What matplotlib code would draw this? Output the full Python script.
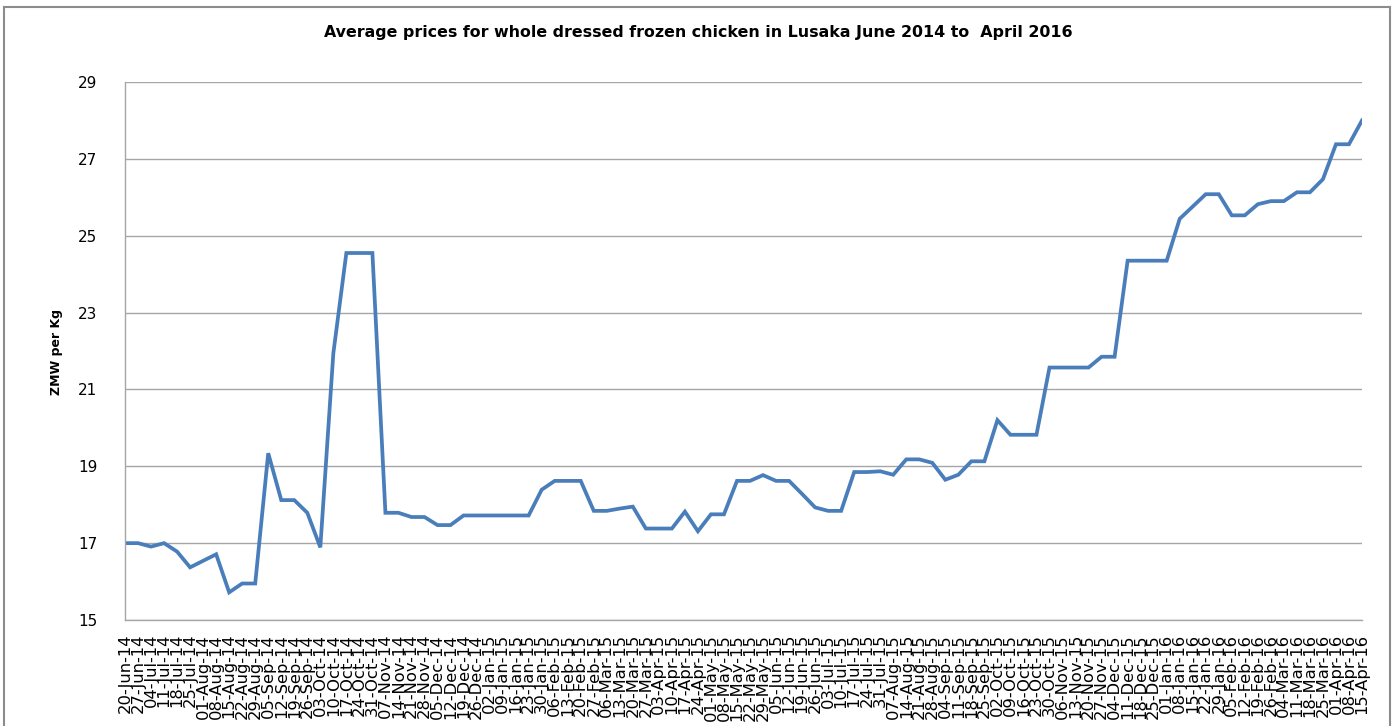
import matplotlib
matplotlib.use("Agg")
import matplotlib.pyplot as plt
import pandas as pd
from matplotlib.lines import Line2D

# ---- data ----
start_date = "2014-06-20"
n_weeks = 96
week_labels = [d.strftime("%d-%b-%y") for d in pd.date_range(start=start_date, periods=n_weeks, freq="7D")]

prices = [
    17.00, 17.00, 16.91, 17.00, 16.78, 16.37, 16.54, 16.71, 15.72, 15.95,
    15.95, 19.34, 18.12, 18.12, 17.79, 16.89, 21.94, 24.55, 24.55, 24.55,
    17.79, 17.79, 17.68, 17.68, 17.47, 17.47, 17.72, 17.72, 17.72, 17.72,
    17.72, 17.72, 18.39, 18.62, 18.62, 18.62, 17.84, 17.84, 17.90, 17.95,
    17.38, 17.38, 17.38, 17.82, 17.31, 17.75, 17.75, 18.62, 18.62, 18.77,
    18.62, 18.62, 18.28, 17.93, 17.84, 17.84, 18.85, 18.85, 18.87, 18.78,
    19.18, 19.18, 19.09, 18.65, 18.78, 19.13, 19.13, 20.20, 19.82, 19.82,
    19.82, 21.57, 21.57, 21.57, 21.57, 21.85, 21.85, 24.35, 24.35, 24.35,
    24.35, 25.44, 25.76, 26.08, 26.08, 25.53, 25.53, 25.82, 25.90, 25.90,
    26.13, 26.13, 26.47, 27.38, 27.38, 28.00,
]
y_ticks = [15, 17, 19, 21, 23, 25, 27, 29]

title = "Average prices for whole dressed frozen chicken in Lusaka June 2014 to  April 2016"
y_label = "ZMW per Kg"

# ---- figure ----
W, H = 1394, 726
fig = plt.figure(figsize=(W / 100, H / 100), dpi=100)
fig.patch.set_facecolor("white")

left, right, top, bottom = 125, 1362, 82, 620
ax = fig.add_axes([left / W, 1 - bottom / H, (right - left) / W, (bottom - top) / H])

x = list(range(len(prices)))
ax.plot(x, prices, color="#4A7EBB", lw=2.7, solid_joinstyle="miter")

ax.set_xlim(0, len(prices) - 1)
ax.set_ylim(15, 29)
ax.set_yticks(y_ticks)
ax.set_yticklabels([str(v) for v in y_ticks], fontsize=11)
ax.set_xticks(x)
ax.set_xticklabels(week_labels, rotation=90, fontsize=11.8, va="top", ha="center")

ax.grid(axis="y", color="#A6A6A6", lw=1.0)
ax.set_axisbelow(True)
for s in ["top", "right"]:
    ax.spines[s].set_visible(False)
for s in ["left", "bottom"]:
    ax.spines[s].set_color("#A6A6A6")
    ax.spines[s].set_linewidth(1.0)
ax.tick_params(axis="y", length=0, pad=20, colors="black")
ax.tick_params(axis="x", length=0, pad=10, colors="black")

fig.text(698 / W, 1 - 33 / H, title, ha="center", va="center", fontsize=11.4, fontweight="bold")
fig.text(57 / W, 1 - 352 / H, y_label, ha="center", va="center", rotation=90, fontsize=9, fontweight="bold")

# outer chart frame
fc = "#8C8C8C"
fig.add_artist(Line2D([4 / W, 1390 / W], [1 - 7 / H, 1 - 7 / H], color=fc, lw=1.5, transform=fig.transFigure))
fig.add_artist(Line2D([4 / W, 4 / W], [1 - 7 / H, 0], color=fc, lw=1.5, transform=fig.transFigure))
fig.add_artist(Line2D([1390 / W, 1390 / W], [1 - 7 / H, 0], color=fc, lw=1.5, transform=fig.transFigure))

fig.savefig("out.png", dpi=100)
